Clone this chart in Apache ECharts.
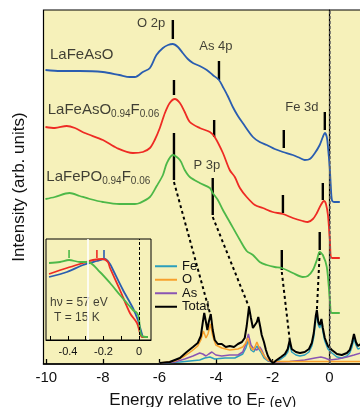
<!DOCTYPE html>
<html>
<head>
<meta charset="utf-8">
<script src="https://cdn.jsdelivr.net/npm/echarts@6/dist/echarts.min.js"></script>
<style>
  html, body { margin: 0; padding: 0; background: #fff; }
  #chart { width: 360px; height: 407px; }
</style>
</head>
<body>
<div id="chart"></div>
<script>
// photoemission spectra, [energy (eV), intensity (arb.)]
var lafeaso = [[-10.03,294],[-9.5,293],[-8.82,293],[-8.0,292],[-7.42,289],[-7.05,287],[-6.87,287],[-6.59,292],[-6.34,296],[-6.11,309],[-5.88,316],[-5.70,319],[-5.53,320],[-5.35,317],[-5.18,311],[-5.0,305],[-4.82,301],[-4.58,298],[-4.33,294],[-4.12,289],[-3.90,284],[-3.76,277],[-3.59,268],[-3.41,257],[-3.23,248],[-3.06,241],[-2.70,227],[-2.46,222],[-2.21,219],[-1.93,215],[-1.64,212],[-1.29,209],[-1.04,206],[-0.87,204],[-0.69,205],[-0.51,211],[-0.34,219],[-0.23,227],[-0.16,231],[-0.09,227],[-0.04,214],[0.02,194],[0.05,179],[0.09,164],[0.16,162],[0.37,162]];
var lafeasof = [[-10.03,237],[-9.7,236],[-9.28,238],[-8.99,236],[-8.64,231],[-8.0,224],[-7.51,216],[-6.94,211],[-6.59,212],[-6.34,216],[-6.17,224],[-5.99,236],[-5.81,251],[-5.64,261],[-5.46,265],[-5.28,261],[-5.11,252],[-4.93,242],[-4.58,236],[-4.22,232],[-4.05,227],[-3.76,211],[-3.52,194],[-3.34,187],[-3.16,176],[-2.92,167],[-2.63,159],[-2.35,156],[-2.0,152],[-1.64,150],[-1.29,146],[-0.94,143],[-0.76,142],[-0.58,145],[-0.44,151],[-0.30,159],[-0.19,163],[-0.12,160],[-0.05,149],[0.02,124],[0.09,106],[0.37,106]];
var lafepof = [[-10.03,165],[-9.7,167],[-9.18,171],[-8.82,168],[-8.46,165],[-8.0,162],[-7.42,160],[-6.87,160],[-6.70,161],[-6.34,167],[-6.10,178],[-5.88,189],[-5.74,201],[-5.53,209],[-5.28,204],[-5.11,194],[-4.93,187],[-4.58,181],[-4.22,176],[-4.12,171],[-3.94,164],[-3.76,154],[-3.52,142],[-3.16,124],[-2.92,113],[-2.70,109],[-2.46,102],[-2.21,99],[-1.93,97],[-1.68,96],[-1.29,91],[-0.94,87],[-0.76,88],[-0.58,94],[-0.44,104],[-0.34,112],[-0.23,109],[-0.09,97],[0.02,64],[0.09,51],[0.37,51]];

// calculated DOS
var dosTotal = [[-5.99,1],[-5.64,2],[-5.28,6],[-5.04,12],[-4.82,17],[-4.65,21],[-4.54,28],[-4.47,42],[-4.42,51],[-4.36,42],[-4.31,34],[-4.26,42],[-4.19,50],[-4.12,34],[-4.05,24],[-3.94,20],[-3.80,20],[-3.66,17],[-3.52,18],[-3.37,17],[-3.23,20],[-3.09,22],[-2.99,26],[-2.92,38],[-2.84,57],[-2.77,46],[-2.70,36],[-2.63,34],[-2.56,42],[-2.51,47],[-2.44,37],[-2.39,29],[-2.31,22],[-2.24,14],[-2.17,8],[-2.07,3],[-1.98,1],[-1.86,4],[-1.71,7],[-1.57,10],[-1.47,15],[-1.40,24],[-1.33,15],[-1.18,12],[-1.04,11],[-0.87,12],[-0.72,15],[-0.62,21],[-0.55,31],[-0.48,48],[-0.44,54],[-0.39,42],[-0.34,39],[-0.28,45],[-0.23,36],[-0.16,26],[-0.05,18],[0.09,14],[0.27,10],[0.44,9],[0.62,11],[0.72,14],[0.80,21],[0.87,30],[0.94,22],[1.01,18],[1.11,20]];
var dosFe = [[-5.99,1],[-5.28,2],[-4.58,4],[-4.40,6],[-4.22,7],[-4.05,5],[-3.69,6],[-3.34,6],[-3.06,10],[-2.95,16],[-2.86,24],[-2.77,14],[-2.67,12],[-2.56,18],[-2.49,20],[-2.42,12],[-2.31,6],[-2.17,3],[-2.0,2],[-1.86,3],[-1.71,5],[-1.57,8],[-1.47,12],[-1.40,21],[-1.33,12],[-1.18,9],[-1.04,8],[-0.87,9],[-0.72,12],[-0.62,18],[-0.55,27],[-0.48,44],[-0.44,50],[-0.39,39],[-0.34,36],[-0.28,42],[-0.23,33],[-0.16,23],[-0.05,15],[0.09,11],[0.27,7],[0.44,6],[0.62,8],[0.72,11],[0.80,17],[0.87,26],[0.94,19],[1.01,15],[1.11,16]];
var dosO = [[-5.99,1],[-5.46,3],[-5.11,8],[-4.86,13],[-4.65,18],[-4.54,24],[-4.45,33],[-4.36,26],[-4.29,30],[-4.20,40],[-4.12,28],[-4.01,19],[-3.80,16],[-3.52,14],[-3.23,15],[-3.06,17],[-2.95,21],[-2.88,26],[-2.81,18],[-2.70,14],[-2.63,17],[-2.56,22],[-2.49,17],[-2.39,12],[-2.28,7],[-2.17,4],[-2.03,2.5],[-1.75,2.5],[1.11,2.5]];
var dosAs = [[-5.99,1],[-5.46,2],[-5.11,5],[-4.82,8],[-4.58,11],[-4.47,10],[-4.36,8],[-4.26,10],[-4.15,12],[-4.01,9],[-3.80,8],[-3.52,9],[-3.23,9],[-3.06,12],[-2.95,20],[-2.86,30],[-2.77,19],[-2.67,15],[-2.56,14],[-2.46,17],[-2.39,14],[-2.28,7],[-2.14,3],[-1.93,2],[-1.40,2.5],[-0.87,4],[-0.51,6],[-0.30,7],[-0.16,6],[0.02,4],[0.30,5],[0.62,7],[0.87,9],[1.11,11]];

// peak marks [energy, from, to] and guide lines [e0, i0, e1, i1]
var peakTicks = [[-5.53,325,344],[-3.90,284,303],[-1.61,216,234],[-0.16,234,252],
                 [-5.49,269,284],[-4.07,227,244],[-1.64,151,169],[-0.23,164,181],
                 [-5.49,184,231],[-4.12,149,186],[-1.68,94,114],[-0.34,114,132]];
var guides = [[-5.49,182,-4.22,51],[-4.12,147,-2.84,57],[-1.68,92,-1.40,24],[-0.34,112,-0.44,54]];

// text labels [energy, intensity, text, anchor]
var labels = [[-9.87,309.5,'LaFeAsO','left'],
              [-9.95,254,'LaFeAsO{s|0.94}F{s|0.06}','left'],
              [-10.0,187,'LaFePO{s|0.94}F{s|0.06}','left'],
              [-6.30,341,'O 2p','center'],
              [-4.01,318,'As 4p','center'],
              [-0.97,257,'Fe 3d','center'],
              [-4.33,199,'P 3p','center']];

// inset: near E_F
var insetAs = [[-0.507,63],[-0.406,68],[-0.315,75],[-0.237,79],[-0.192,81],[-0.163,76],[-0.146,70],[-0.09,50],[-0.034,32],[-0.006,20],[0.017,6],[0.023,3],[0.051,3]];
var insetAsF = [[-0.507,66],[-0.406,72],[-0.315,77],[-0.259,80],[-0.203,81],[-0.175,78],[-0.163,72],[-0.107,50],[-0.051,27],[-0.011,17],[0.006,7],[0.017,3],[0.051,3]];
var insetPF = [[-0.507,77],[-0.445,78],[-0.394,80],[-0.332,78],[-0.287,78],[-0.220,68],[-0.163,57],[-0.107,45],[-0.068,37],[-0.034,30],[-0.011,27],[0,22],[0.006,10],[0.017,4],[0.051,3]];
var insetTicks = [[-0.197,82,90],[-0.237,82,90],[-0.394,82,90]];
var insetLabels = [[-0.501,37,'hν = 57 eV'],[-0.479,22,'T = 15 K']];

var mainTicks = [-10, -8, -6, -4, -2, 0];
var insetTickVals = [-0.5, -0.4, -0.3, -0.2, -0.1, 0];
var insetLabelVals = [-0.4, -0.2, 0];

var FONT = '"Liberation Sans", Arial, sans-serif';
var BG = '#f6f1ba';
var BLUE = '#2a5db0', RED = '#ee2b24', GREEN = '#4db848';
var insetColors = [BLUE, RED, GREEN];

var chart = echarts.init(document.getElementById('chart'));

function line(name, data, color, width, xi, smooth) {
  return {
    name: name, type: 'line', data: data, xAxisIndex: xi, yAxisIndex: xi,
    showSymbol: false, symbol: 'none', smooth: smooth, silent: true,
    color: color, lineStyle: { color: color, width: width }
  };
}

var option = {
  animation: false,
  textStyle: { fontFamily: FONT },
  grid: [
    { left: 43.5, top: 10, right: -2, bottom: 43, outerBoundsMode: 'none', containLabel: false,
      show: true, backgroundColor: BG, borderColor: '#000', borderWidth: 1.2 },
    { left: 46, top: 239, width: 105, height: 101, outerBoundsMode: 'none', containLabel: false,
      show: true, backgroundColor: BG, borderColor: '#000', borderWidth: 1 }
  ],
  legend: {
    data: ['Fe', 'O', 'As', 'Total'], orient: 'vertical', left: 150, top: 254.5,
    icon: 'rect', itemWidth: 22, itemHeight: 2, itemGap: 0, selectedMode: false,
    textStyle: { fontSize: 13, color: '#111', lineHeight: 13.5, fontFamily: FONT }
  },
  xAxis: [
    {
      type: 'value', gridIndex: 0, min: -10.1, max: 1.154,
      axisLine: { lineStyle: { color: '#000', width: 1.5 } },
      axisTick: { inside: true, length: 5, customValues: mainTicks, lineStyle: { color: '#000', width: 1.3 } },
      axisLabel: { customValues: mainTicks, fontSize: 15, color: '#111', margin: 6 },
      splitLine: { show: false },
      name: 'Energy relative to E{f|F} {u|(eV)}', nameLocation: 'middle', nameGap: 24,
      nameTextStyle: {
        fontSize: 17, color: '#111', lineHeight: 20,
        rich: { f: { fontSize: 12, lineHeight: 6, verticalAlign: 'bottom' }, u: { fontSize: 14, lineHeight: 18, verticalAlign: 'bottom' } }
      }
    },
    {
      type: 'value', gridIndex: 1, min: -0.524, max: 0.068,
      axisLine: { lineStyle: { color: '#000', width: 1 } },
      axisTick: { inside: true, length: 4, customValues: insetTickVals, lineStyle: { color: '#000', width: 1 } },
      axisLabel: { customValues: insetLabelVals, fontSize: 11, color: '#111', margin: 6 },
      splitLine: { show: false }
    }
  ],
  yAxis: [
    {
      type: 'value', gridIndex: 0, min: 0, max: 354,
      axisLine: { show: true, lineStyle: { color: '#000', width: 1.2 } },
      axisTick: { show: false }, axisLabel: { show: false }, splitLine: { show: false },
      name: 'Intensity (arb. units)', nameLocation: 'middle', nameGap: 16,
      nameTextStyle: { fontSize: 17, color: '#111' }
    },
    {
      type: 'value', gridIndex: 1, min: 0, max: 101,
      axisLine: { show: false }, axisTick: { show: false }, axisLabel: { show: false }, splitLine: { show: false }
    }
  ],
  series: []
};

var s = option.series;

// vertical E_F guide
s.push({
  type: 'line', xAxisIndex: 0, yAxisIndex: 0, data: [], silent: true,
  markLine: { symbol: 'none', silent: true, label: { show: false },
    lineStyle: { color: '#666', type: [3, 2], width: 1.5 }, data: [{ xAxis: 0 }] }
});
s.push({
  type: 'line', xAxisIndex: 1, yAxisIndex: 1, data: [], silent: true,
  markLine: { symbol: 'none', silent: true, label: { show: false }, data: [
    { xAxis: -0.287, lineStyle: { color: '#fff', type: 'solid', width: 1.6 } },
    { xAxis: 0, lineStyle: { color: '#000', type: [3, 2], width: 1 } }
  ] }
});

s.push(line('LaFeAsO', lafeaso, BLUE, 1.8, 0, 0.3));
s.push(line('LaFeAsO F', lafeasof, RED, 1.8, 0, 0.3));
s.push(line('LaFePO F', lafepof, GREEN, 1.8, 0, 0.3));

s.push(line('Fe', dosFe, '#2b9fbc', 1.5, 0, false));
s.push(line('As', dosAs, '#8a55b3', 1.5, 0, false));
s.push(line('O', dosO, '#f7a02c', 1.5, 0, false));
s.push(line('Total', dosTotal, '#000', 2, 0, false));

s.push({
  type: 'custom', xAxisIndex: 0, yAxisIndex: 0, silent: true,
  data: peakTicks.map(function (t) { return [t[0], t[1], t[0], t[2]]; }),
  encode: { x: [0, 2], y: [1, 3] },
  renderItem: function (params, api) {
    var a = api.coord([api.value(0), api.value(1)]);
    var b = api.coord([api.value(2), api.value(3)]);
    return { type: 'line', shape: { x1: a[0], y1: a[1], x2: b[0], y2: b[1] }, style: { stroke: '#000', lineWidth: 2.4 } };
  }
});
s.push({
  type: 'custom', xAxisIndex: 0, yAxisIndex: 0, silent: true,
  data: guides, encode: { x: [0, 2], y: [1, 3] },
  renderItem: function (params, api) {
    var a = api.coord([api.value(0), api.value(1)]);
    var b = api.coord([api.value(2), api.value(3)]);
    return { type: 'line', shape: { x1: a[0], y1: a[1], x2: b[0], y2: b[1] }, style: { stroke: '#000', lineWidth: 2, lineDash: [3, 3] } };
  }
});

s.push({
  type: 'scatter', xAxisIndex: 0, yAxisIndex: 0, symbolSize: 0, silent: true,
  data: labels.map(function (l) {
    var big = l[3] === 'left';
    return { value: [l[0], l[1]], label: {
      formatter: l[2], position: big ? 'right' : 'inside', distance: 0,
      fontSize: big ? 15 : 13, lineHeight: big ? 18 : 15 } };
  }),
  label: {
    show: true, color: '#111', fontFamily: FONT,
    rich: { s: { fontSize: 10, lineHeight: 6, verticalAlign: 'bottom', color: '#111' } }
  }
});

s.push(line('ins As', insetAs, BLUE, 1.8, 1, 0.3));
s.push(line('ins AsF', insetAsF, RED, 1.8, 1, 0.3));
s.push(line('ins PF', insetPF, GREEN, 1.8, 1, 0.3));
s.push({
  type: 'custom', xAxisIndex: 1, yAxisIndex: 1, silent: true,
  data: insetTicks.map(function (t) { return [t[0], t[1], t[0], t[2]]; }),
  encode: { x: [0, 2], y: [1, 3] },
  renderItem: function (params, api) {
    var a = api.coord([api.value(0), api.value(1)]);
    var b = api.coord([api.value(2), api.value(3)]);
    return { type: 'line', shape: { x1: a[0], y1: a[1], x2: b[0], y2: b[1] }, style: { stroke: insetColors[params.dataIndex], lineWidth: 1.6 } };
  }
});
s.push({
  type: 'scatter', xAxisIndex: 1, yAxisIndex: 1, symbolSize: 0, silent: true,
  data: insetLabels.map(function (l) { return { value: [l[0], l[1]], label: { formatter: l[2] } }; }),
  label: { show: true, position: 'right', distance: 0, fontSize: 12, color: '#111', fontFamily: FONT }
});

chart.setOption(option);
window.addEventListener('resize', function () { chart.resize(); });
</script>
</body>
</html>
